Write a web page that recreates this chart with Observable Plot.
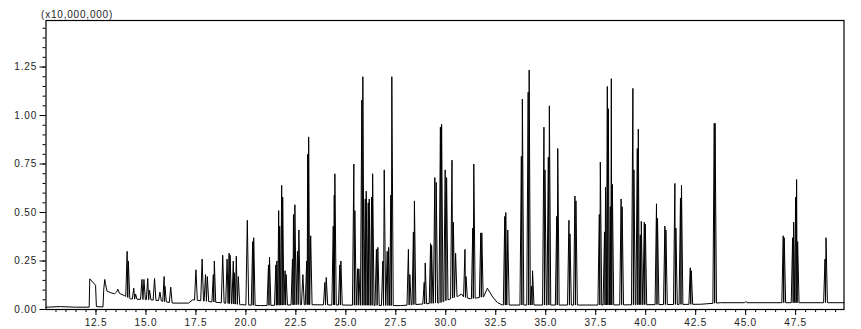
<!DOCTYPE html>
<html>
<head>
<meta charset="utf-8">
<script src="https://cdn.jsdelivr.net/npm/d3@7"></script>
<script src="https://cdn.jsdelivr.net/npm/@observablehq/plot@0.6"></script>
<style>
  html, body { margin: 0; padding: 0; background: #fff; }
  #chart svg { display: block; }
</style>
</head>
<body>
<div id="chart"></div>
<script>
// Retention time (min) vs. intensity (x10,000,000)
const yUnitLabel = "(x10,000,000)";

// Baseline / broad features of the trace
const baseTime = [10.0, 10.72, 11.46, 12.16, 12.19, 12.48, 12.52, 12.85, 12.89, 12.94, 12.97, 13.05, 13.23, 13.43, 13.53, 13.59, 13.68, 13.93, 14.22, 14.73, 15.23, 15.72, 16.33, 17.13, 17.34, 17.73, 19.73, 20.73, 22.73, 27.74, 29.74, 30.24, 30.64, 30.79, 30.89, 31.24, 31.89, 32.08, 32.34, 32.59, 32.84, 37.74, 42.75, 43.75, 44.95, 45.0, 45.08, 49.92];
const baseValue = [0.012, 0.015, 0.012, 0.012, 0.158, 0.125, 0.015, 0.013, 0.105, 0.155, 0.135, 0.095, 0.087, 0.081, 0.09, 0.105, 0.083, 0.071, 0.055, 0.052, 0.05, 0.045, 0.033, 0.033, 0.05, 0.045, 0.025, 0.02, 0.025, 0.02, 0.035, 0.055, 0.07, 0.08, 0.065, 0.055, 0.065, 0.11, 0.065, 0.035, 0.023, 0.023, 0.027, 0.035, 0.035, 0.041, 0.035, 0.035];

// Peak apex retention times and heights
const peakTime = [14.06, 14.12, 14.39, 14.48, 14.80, 14.90, 15.09, 15.18, 15.43, 15.70, 15.91, 15.95, 16.24,
  17.50, 17.81, 17.98, 18.07, 18.37, 18.42, 18.84, 19.06, 19.16, 19.21, 19.37, 19.42, 19.52, 19.62,
  20.07, 20.34, 20.39, 21.13, 21.18, 21.50, 21.55, 21.64, 21.69, 21.79, 21.84, 21.96, 22.01,
  22.33, 22.38, 22.45, 22.58, 22.65, 22.85, 23.04, 23.09, 23.14, 23.24,
  23.95, 24.02, 24.37, 24.42, 24.45, 24.70, 24.75, 25.40, 25.45, 25.59, 25.65, 25.80, 25.85,
  25.97, 26.02, 26.12, 26.17, 26.29, 26.34, 26.53, 26.60, 26.85, 26.92, 27.07, 27.14, 27.25, 27.30,
  28.13, 28.20, 28.38, 28.43, 28.92, 28.97, 29.24, 29.29, 29.45, 29.52, 29.73, 29.79, 29.97, 30.04,
  30.31, 30.38, 30.49, 30.96, 31.01, 31.35, 31.40, 31.75, 31.80,
  32.95, 33.00, 33.10, 33.78, 33.83, 34.12, 34.17, 34.29, 34.34, 34.91, 34.96, 35.13, 35.18,
  35.55, 35.60, 36.16, 36.21, 36.46, 36.51,
  37.68, 37.73, 37.94, 37.99, 38.08, 38.13, 38.23, 38.28, 38.33, 38.77, 38.82,
  39.36, 39.41, 39.58, 39.63, 39.73, 39.78, 39.93, 39.98, 40.54, 40.59, 40.96, 41.01,
  41.46, 41.51, 41.74, 41.79, 42.23, 42.28, 43.43, 43.47,
  46.88, 46.93, 47.35, 47.40, 47.50, 47.55, 47.60, 48.97, 49.02];
const peakHeight = [0.30, 0.25, 0.11, 0.08, 0.155, 0.155, 0.16, 0.10, 0.16, 0.09, 0.17, 0.12, 0.115,
  0.205, 0.26, 0.18, 0.17, 0.18, 0.25, 0.28, 0.26, 0.29, 0.28, 0.25, 0.19, 0.275, 0.17,
  0.46, 0.35, 0.37, 0.23, 0.27, 0.23, 0.25, 0.51, 0.43, 0.64, 0.58, 0.20, 0.18,
  0.26, 0.49, 0.54, 0.30, 0.41, 0.18, 0.25, 0.80, 0.89, 0.38,
  0.14, 0.165, 0.43, 0.59, 0.70, 0.23, 0.25, 0.75, 0.51, 0.21, 0.21, 1.08, 1.20,
  0.57, 0.61, 0.55, 0.57, 0.58, 0.70, 0.31, 0.32, 0.25, 0.72, 0.30, 0.32, 0.59, 1.20,
  0.31, 0.18, 0.40, 0.56, 0.14, 0.24, 0.34, 0.33, 0.68, 0.655, 0.94, 0.955, 0.72, 0.68,
  0.77, 0.45, 0.29, 0.31, 0.17, 0.42, 0.75, 0.395, 0.395,
  0.48, 0.50, 0.41, 0.79, 1.085, 1.12, 1.235, 0.12, 0.20, 0.94, 0.72, 0.785, 1.05,
  0.48, 0.83, 0.46, 0.39, 0.585, 0.56,
  0.49, 0.76, 0.40, 0.63, 1.15, 1.035, 0.53, 1.19, 0.645, 0.57, 0.53,
  1.14, 0.72, 0.83, 0.93, 0.385, 0.455, 0.45, 0.44, 0.545, 0.47, 0.43, 0.41,
  0.65, 0.42, 0.575, 0.64, 0.215, 0.20, 0.96, 0.96,
  0.38, 0.37, 0.37, 0.45, 0.58, 0.67, 0.35, 0.26, 0.37];

// Axis ticks
const xMajorTicks = [12.5, 15.0, 17.5, 20.0, 22.5, 25.0, 27.5, 30.0, 32.5, 35.0, 37.5, 40.0, 42.5, 45.0, 47.5];
const xMinorTicks = d3.range(10.5, 49.75, 0.5);
const yMajorTicks = [0, 0.25, 0.5, 0.75, 1.0, 1.25];
const yMinorTicks = d3.range(0.05, 1.46, 0.05);

// ---- build trace: peaks as narrow spikes on top of the baseline ----
const baseAt = d3.scaleLinear().domain(baseTime).range(baseValue).clamp(true);
const halfWidth = 0.07;
const peaks = peakTime.map((t, i) => ({t, h: peakHeight[i]})).sort((a, b) => a.t - b.t);
const pts = [];
peaks.forEach((p, i) => {
  let left = p.t - halfWidth, right = p.t + halfWidth;
  if (i > 0 && p.t - peaks[i - 1].t < 2 * halfWidth) left = (p.t + peaks[i - 1].t) / 2;
  if (i < peaks.length - 1 && peaks[i + 1].t - p.t < 2 * halfWidth) right = (p.t + peaks[i + 1].t) / 2;
  p.left = left; p.right = right;
  pts.push({time: left, signal: baseAt(left)});
  pts.push({time: p.t, signal: p.h});
  pts.push({time: right, signal: baseAt(right)});
});
baseTime.forEach((t, i) => {
  if (!peaks.some(p => t >= p.left && t <= p.right)) pts.push({time: t, signal: baseValue[i]});
});
pts.sort((a, b) => a.time - b.time);
const trace = [];
pts.forEach(d => {
  const last = trace[trace.length - 1];
  if (last && Math.abs(last.time - d.time) < 1e-9 && last.signal === d.signal) return;
  trace.push(d);
});

const chart = Plot.plot({
  width: 861,
  height: 329,
  marginLeft: 45.5,
  marginRight: 17.5,
  marginTop: 20,
  marginBottom: 20,
  style: {fontFamily: "'Liberation Sans', Arial, sans-serif", fontSize: "10px", background: "#fff", color: "#000", letterSpacing: "0.8px"},
  x: {domain: [10, 49.92]},
  y: {domain: [0, 1.49]},
  marks: [
    Plot.line(trace, {x: "time", y: "signal", stroke: "#000", strokeWidth: 1, strokeLinejoin: "miter"}),
    Plot.frame({stroke: "#000", strokeWidth: 1.2}),
    Plot.axisY(yMajorTicks, {tickSize: 6, tickPadding: 3, tickFormat: d3.format(".2f"), label: null, fill: "#222"}),
    Plot.axisY(yMinorTicks, {tickSize: 3, fill: "none", label: null}),
    Plot.axisX(xMajorTicks, {tickSize: 6, tickPadding: 3, tickFormat: d3.format(".1f"), label: null, fill: "#222"}),
    Plot.axisX(xMinorTicks, {tickSize: 3, fill: "none", label: null}),
    Plot.text([yUnitLabel], {frameAnchor: "top-left", dx: -5, dy: -3, textAnchor: "start", lineAnchor: "bottom", fill: "#222", fontSize: 10})
  ]
});
document.getElementById("chart").append(chart);
</script>
</body>
</html>
